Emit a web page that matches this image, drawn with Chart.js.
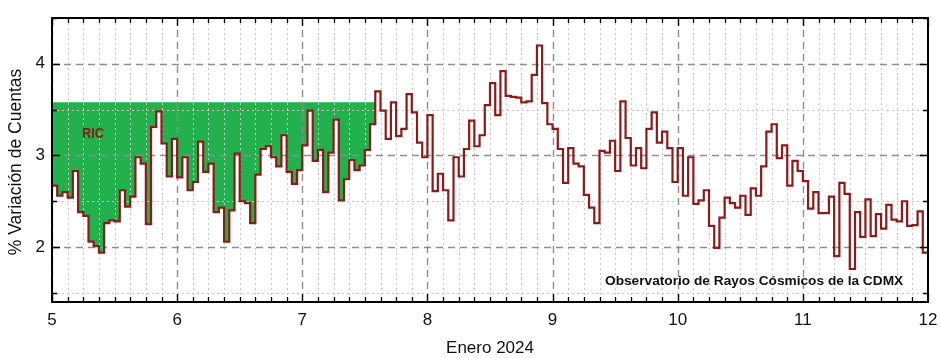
<!DOCTYPE html>
<html><head><meta charset="utf-8">
<script src="https://cdn.jsdelivr.net/npm/chart.js@4/dist/chart.umd.min.js"></script>
<style>html,body{margin:0;padding:0;background:#fff;overflow:hidden}#wrap{width:940px;height:358px}</style>
</head><body><div id="wrap"><canvas id="c" width="940" height="358"></canvas></div>
<script>
// ---- data ----
const startDay = 5;          // 5 de enero 2024
const hoursPerDay = 24;
const values = [
 2.67,2.56,2.60,2.54,2.83,2.38,2.34,2.06,2.01,1.94,2.26,2.29,2.28,2.62,2.44,2.55,2.98,2.91,2.25,3.31,3.48,3.13,2.77,3.18,
 2.76,2.98,2.62,2.71,3.15,2.82,2.91,2.38,2.43,2.06,2.40,3.02,2.50,2.48,2.26,2.79,3.07,3.10,2.98,2.88,3.22,2.82,2.69,2.84,
 3.11,3.49,2.94,3.06,2.60,3.03,3.39,2.51,2.74,2.95,2.84,2.89,3.06,3.34,3.70,3.49,3.18,3.58,3.21,3.29,3.67,3.47,3.14,2.98,
 3.44,2.61,2.80,2.62,2.29,2.98,2.77,3.07,3.38,3.10,3.22,3.55,3.79,3.44,3.92,3.65,3.64,3.63,3.58,3.59,3.88,4.20,3.57,3.34,
 3.29,3.07,2.70,3.08,2.91,2.88,2.57,2.43,2.26,3.05,3.03,3.16,2.83,3.59,3.19,2.89,3.08,2.86,3.29,3.47,3.14,3.26,3.08,2.71,
 3.08,2.56,2.98,2.47,2.51,2.62,2.23,1.99,2.32,2.54,2.48,2.43,2.56,2.35,2.64,2.56,2.88,3.26,3.34,2.97,3.11,2.67,2.94,2.83,
 2.72,2.42,2.60,2.37,2.37,2.55,1.90,2.70,2.58,1.76,2.38,2.11,2.52,2.12,2.36,2.20,2.46,2.30,2.28,2.50,2.23,2.24,2.39,1.94
];
const xTickValues = [5,6,7,8,9,10,11,12];
const yTickValues = [2,3,4];
const yMin = 1.4, yMax = 4.5;
const ricEndHour = 62;       // fin del área sombreada (7 ene, 14 h)
const ricLevel = 3.58;       // nivel superior del área RIC
const texts = {
  yTitle: '% Variación de Cuentas',
  xTitle: 'Enero 2024',
  ric: 'RIC',
  obs: 'Observatorio de Rayos Cósmicos de la CDMX'
};

// ---- derived datasets ----
const linePts = values.map((v,i)=>({x:startDay+i/hoursPerDay, y:v}));
linePts.push({x:startDay+values.length/hoursPerDay, y:values[values.length-1]});
const ricPts = values.slice(0,ricEndHour).map((v,i)=>({x:startDay+i/hoursPerDay, y:v}));
ricPts.push({x:startDay+ricEndHour/hoursPerDay, y:values[ricEndHour-1]});

const FONT = "'Liberation Sans', Arial, Helvetica, sans-serif";
const RED = '#8c1a1a';

const gridPlugin = {
  id:'gridPlugin',
  afterDatasetDraw(chart,args){
    if(args.index!==1) return;
    const {ctx, chartArea:a, scales:{x,y}} = chart;
    ctx.save();
    ctx.beginPath(); ctx.rect(a.left,a.top,a.right-a.left,a.bottom-a.top); ctx.clip();
    ctx.strokeStyle='#c9c9c9'; ctx.lineWidth=1; ctx.setLineDash([2,3]);
    for(let d=startDay; d<12; d+=1){
      for(let k=1;k<8;k++){
        const px=Math.round(x.getPixelForValue(d+k/8))+0.5;
        ctx.beginPath(); ctx.moveTo(px,a.top); ctx.lineTo(px,a.bottom); ctx.stroke();
      }
    }
    for(let v=1.5; v<yMax; v+=1){
      const py=Math.round(y.getPixelForValue(v))+0.5;
      ctx.beginPath(); ctx.moveTo(a.left,py); ctx.lineTo(a.right,py); ctx.stroke();
    }
    ctx.strokeStyle='#8e8e8e'; ctx.lineWidth=1.4; ctx.setLineDash([7,5]);
    xTickValues.forEach(v=>{
      const px=Math.round(x.getPixelForValue(v))+0.5;
      ctx.beginPath(); ctx.moveTo(px,a.top); ctx.lineTo(px,a.bottom); ctx.stroke();
    });
    yTickValues.forEach(v=>{
      const py=Math.round(y.getPixelForValue(v))+0.5;
      ctx.beginPath(); ctx.moveTo(a.left,py); ctx.lineTo(a.right,py); ctx.stroke();
    });
    ctx.restore();
  },
  afterDraw(chart){
    const {ctx, chartArea:a, scales:{x,y}} = chart;
    ctx.save();
    ctx.setLineDash([]);
    ctx.strokeStyle='#000'; ctx.lineWidth=1.3;
    for(let d=startDay; d<=12.0001; d+=1/8){
      const px=Math.round(x.getPixelForValue(d))+0.5;
      const major=Math.abs(d-Math.round(d))<1e-6;
      const L=major?8:5;
      ctx.beginPath(); ctx.moveTo(px,a.bottom); ctx.lineTo(px,a.bottom-L);
      ctx.moveTo(px,a.top); ctx.lineTo(px,a.top+L); ctx.stroke();
    }
    for(let v=1.5; v<=yMax+1e-6; v+=0.5){
      const py=Math.round(y.getPixelForValue(v))+0.5;
      const major=Math.abs(v-Math.round(v))<1e-6;
      const L=major?8:5;
      ctx.beginPath(); ctx.moveTo(a.left,py); ctx.lineTo(a.left+L,py);
      ctx.moveTo(a.right,py); ctx.lineTo(a.right-L,py); ctx.stroke();
    }
    ctx.lineWidth=2;
    ctx.strokeRect(a.left,a.top,a.right-a.left,a.bottom-a.top);
    ctx.fillStyle='#111';
    ctx.font="17px "+FONT; ctx.textAlign='center'; ctx.textBaseline='middle';
    ctx.fillText(texts.xTitle, (a.left+a.right)/2, 348);
    ctx.save(); ctx.translate(16,(a.top+a.bottom)/2+2); ctx.rotate(-Math.PI/2);
    ctx.font="17.5px "+FONT;
    ctx.fillText(texts.yTitle,0,0); ctx.restore();
    ctx.fillStyle=RED; ctx.font="bold 15px 'Liberation Sans Narrow', 'Arial Narrow', "+FONT;
    ctx.textAlign='left';
    ctx.save(); ctx.translate(x.getPixelForValue(5.24), y.getPixelForValue(3.23)); ctx.scale(0.85,1);
    ctx.fillText(texts.ric, 0, 0); ctx.restore();
    ctx.fillStyle='#111'; ctx.font="bold 13.7px "+FONT;
    ctx.textAlign='left';
    ctx.fillText(texts.obs, 605, 281);
    ctx.restore();
  }
};

Chart.defaults.font.family = FONT;
new Chart(document.getElementById('c'), {
  type:'line',
  data:{datasets:[
    {label:'RIC', data:linePts, stepped:true, borderColor:RED, borderWidth:2.2,
     pointRadius:0, fill:false, tension:0},
    {label:'area', data:ricPts, stepped:true, borderWidth:0, borderColor:'rgba(0,0,0,0)',
     backgroundColor:'#22b14c', pointRadius:0, fill:{value:ricLevel}, tension:0}
  ]},
  options:{
    responsive:false, animation:false, devicePixelRatio:1,
    layout:{padding:{left:0,top:18,right:12,bottom:0}},
    plugins:{legend:{display:false}, tooltip:{enabled:false}, filler:{propagate:false}},
    scales:{
      x:{type:'linear', min:5, max:12,
         afterBuildTicks(s){ s.ticks = xTickValues.map(v=>({value:v})); },
         afterFit(s){ s.height=56; s.paddingLeft=0; s.paddingRight=0; },
         grid:{display:false, drawTicks:false}, border:{display:false},
         ticks:{font:{size:17}, color:'#111', padding:8, maxRotation:0, autoSkip:false}},
      y:{min:yMin, max:yMax,
         afterBuildTicks(s){ s.ticks = yTickValues.map(v=>({value:v})); },
         afterFit(s){ s.width=52; s.paddingTop=0; s.paddingBottom=0; },
         grid:{display:false, drawTicks:false}, border:{display:false},
         ticks:{font:{size:17}, color:'#111', padding:7}}
    }
  },
  plugins:[gridPlugin]
});
</script></body></html>
